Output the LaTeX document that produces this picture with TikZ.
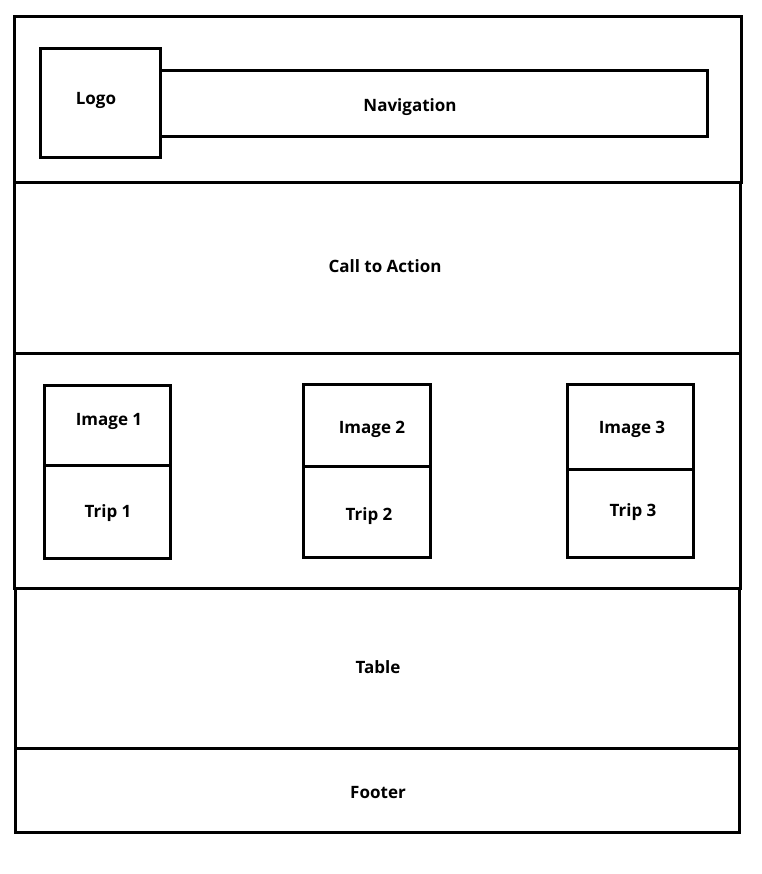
\documentclass[tikz,border=0pt]{standalone}
\usepackage{fontspec}
\setmainfont{Open Sans}
\begin{document}
\begin{tikzpicture}[x=1pt,y=-1pt,
  box/.style={draw=black,line width=3pt,rectangle,inner sep=0pt,outer sep=0pt},
  lbl/.style={font=\fontsize{17}{20}\selectfont\bfseries,inner sep=0pt,yshift=-2pt}]
\useasboundingbox[fill=white] (0,0) rectangle (761,874);
% sections
\node[box,minimum width=727pt,minimum height=166pt] (header) at (377.5,100) {};
\node[box,minimum width=726pt,minimum height=170pt] (cta) at (377,268) {};
\node[box,minimum width=726pt,minimum height=235pt] (trips) at (377,470.5) {};
\node[box,minimum width=724pt,minimum height=160pt] (table) at (377,668) {};
\node[box,minimum width=724pt,minimum height=84pt] (footer) at (377,790) {};
% header contents
\node[box,minimum width=547pt,minimum height=66pt] (nav) at (433.5,104) {};
\node[box,fill=white,minimum width=120pt,minimum height=109pt] (logo) at (100,103.5) {};
% trip cards
\node[box,minimum width=126pt,minimum height=80pt] (img1) at (107,425) {};
\node[box,minimum width=126pt,minimum height=93pt] (trip1) at (107,511.5) {};
\node[box,minimum width=127pt,minimum height=82pt] (img2) at (366.5,425) {};
\node[box,minimum width=127pt,minimum height=91pt] (trip2) at (366.5,511.5) {};
\node[box,minimum width=126pt,minimum height=85pt] (img3) at (630,426.5) {};
\node[box,minimum width=126pt,minimum height=88pt] (trip3) at (630,513) {};
% labels
\node[lbl] (tlogo) at (96,98) {Logo};
\node[lbl] (tnav) at (410,105) {Navigation};
\node[lbl] (tcta) at (385,264) {Call to Action};
\node[lbl] (timg1) at (109,419) {Image 1};
\node[lbl] (ttrip1) at (108,511) {Trip 1};
\node[lbl] (timg2) at (372,427) {Image 2};
\node[lbl] (ttrip2) at (369,514) {Trip 2};
\node[lbl] (timg3) at (632,427) {Image 3};
\node[lbl] (ttrip3) at (633,510) {Trip 3};
\node[lbl] (ttable) at (378,665) {Table};
\node[lbl] (tfooter) at (378,791) {Footer};
\end{tikzpicture}
\end{document}
